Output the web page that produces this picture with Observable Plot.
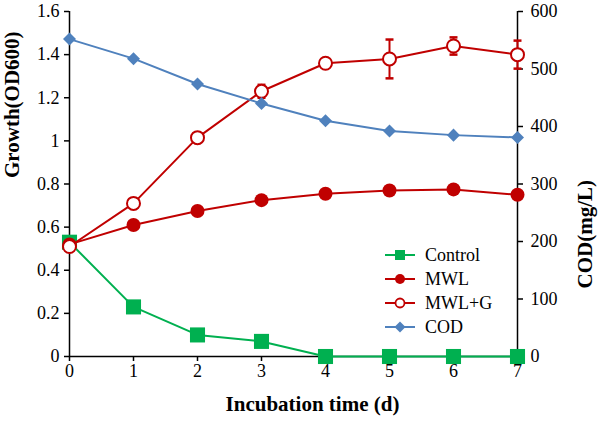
<!DOCTYPE html>
<html><head><meta charset="utf-8">
<script src="https://cdn.jsdelivr.net/npm/d3@7"></script>
<script src="https://cdn.jsdelivr.net/npm/@observablehq/plot@0.6"></script>
<style>
body{margin:0;background:#fff;}
#wrap{position:relative;width:598px;height:424px;font-family:"Times New Roman","Liberation Serif","DejaVu Serif",serif;}
#wrap svg, #wrap svg text{font-family:"Times New Roman","Liberation Serif","DejaVu Serif",serif !important;}
.legend{position:absolute;left:385px;top:243px;font-size:18px;color:#000;font-family:"Times New Roman","Liberation Serif","DejaVu Serif",serif;}
.legend .row{display:flex;align-items:center;height:24px;}
.legend svg{margin-right:10px;display:block;}
</style></head><body><div id="wrap"></div>
<script>
const days=[0,1,2,3,4,5,6,7];
const control=[0.53,0.23,0.10,0.07,0,0,0,0];
const mwl=[0.52,0.61,0.675,0.725,0.755,0.77,0.775,0.75];
const mwlG=[0.51,0.71,1.015,1.23,1.36,1.38,1.44,1.40];
const mwlGErr=[0,0,0,0.03,0,0.09,0.04,0.065];
const cod=[552,518,474,440,410,392,385,381];
const odTicks=[0,0.2,0.4,0.6,0.8,1,1.2,1.4,1.6];
const codTicks=[0,100,200,300,400,500,600];
const dayTicks=[0,1,2,3,4,5,6,7];
const seriesNames=["Control","MWL","MWL+G","COD"];
const colors={green:"#00B050",red:"#C00000",blue:"#4F81BD"};

const k=1.6/600; // COD -> OD scale
const rows=days.map((d,i)=>({day:d,control:control[i],mwl:mwl[i],mwlG:mwlG[i],err:mwlGErr[i],cod:cod[i]*k}));
const errRows=rows.filter(r=>r.err>0);
const capSymbol={draw(ctx,size){const w=Math.sqrt(size);ctx.moveTo(-w/2,0);ctx.lineTo(w/2,0);}};

const font='"Times New Roman","Liberation Serif","DejaVu Serif",serif';
const chart=Plot.plot({
  width:598,height:424,
  marginLeft:69,marginRight:81,marginTop:11,marginBottom:68,
  x:{domain:[0,7]},
  y:{domain:[0,1.6]},
  style:{fontFamily:font,fontSize:"18px",color:"#000",background:"white"},
  marks:[
    Plot.axisX(dayTicks,{tickSize:5,tickPadding:3,label:null,fontSize:18,strokeWidth:1.5,tickFormat:d=>String(d)}),
    Plot.axisY(odTicks,{anchor:"left",tickSize:5,tickPadding:5,label:null,fontSize:18,strokeWidth:1.5,tickFormat:d=>String(+(+d).toFixed(1))}),
    Plot.axisY(codTicks.map(v=>v*k),{anchor:"right",tickSize:5,tickPadding:8,label:null,fontSize:18,strokeWidth:1.5,tickFormat:d=>String(Math.round(d/k))}),
    Plot.ruleX([0],{stroke:"#000",strokeWidth:1.5}),
    Plot.ruleX([7],{stroke:"#000",strokeWidth:1.5}),
    Plot.ruleY([0],{stroke:"#000",strokeWidth:1.5}),
    // Control
    Plot.line(rows,{x:"day",y:"control",stroke:colors.green,strokeWidth:2}),
    Plot.dot(rows,{x:"day",y:"control",symbol:"square",r:8.5,fill:colors.green,stroke:"none"}),
    // MWL
    Plot.line(rows,{x:"day",y:"mwl",stroke:colors.red,strokeWidth:2}),
    Plot.dot(rows,{x:"day",y:"mwl",r:7,fill:colors.red,stroke:"none"}),
    // MWL+G
    Plot.ruleX(errRows,{x:"day",y1:r=>r.mwlG-r.err,y2:r=>r.mwlG+r.err,stroke:colors.red,strokeWidth:2}),
    Plot.dot(errRows,{x:"day",y:r=>r.mwlG+r.err,symbol:capSymbol,r:4.5,stroke:colors.red,strokeWidth:2.5,fill:"none"}),
    Plot.dot(errRows,{x:"day",y:r=>r.mwlG-r.err,symbol:capSymbol,r:4.5,stroke:colors.red,strokeWidth:2.5,fill:"none"}),
    Plot.line(rows,{x:"day",y:"mwlG",stroke:colors.red,strokeWidth:2}),
    Plot.dot(rows,{x:"day",y:"mwlG",r:6.5,fill:"white",stroke:colors.red,strokeWidth:2}),
    // COD
    Plot.line(rows,{x:"day",y:"cod",stroke:colors.blue,strokeWidth:2}),
    Plot.dot(rows,{x:"day",y:"cod",symbol:"square",r:5.2,rotate:45,fill:colors.blue,stroke:"none"}),
    // axis titles
    Plot.text(["Incubation time (d)"],{frameAnchor:"bottom",text:d=>d,dx:19,dy:54,fontSize:21,fontWeight:"bold",fontFamily:font}),
    Plot.text(["Growth(OD600)"],{frameAnchor:"left",text:d=>d,rotate:-90,dx:-57,dy:-6,fontSize:21,fontWeight:"bold",fontFamily:font}),
    Plot.text(["COD(mg/L)"],{frameAnchor:"right",text:d=>d,rotate:-90,dx:68,dy:-4,fontSize:21,fontWeight:"bold",fontFamily:font})
  ]
});
const wrap=document.getElementById("wrap");
wrap.appendChild(chart);

// legend
const legendSym={
  "Control":`<line x1="0" y1="10" x2="30" y2="10" stroke="${colors.green}" stroke-width="2"/><rect x="10" y="5" width="10" height="10" fill="${colors.green}"/>`,
  "MWL":`<line x1="0" y1="10" x2="30" y2="10" stroke="${colors.red}" stroke-width="2"/><circle cx="15" cy="10" r="5" fill="${colors.red}"/>`,
  "MWL+G":`<line x1="0" y1="10" x2="30" y2="10" stroke="${colors.red}" stroke-width="2"/><circle cx="15" cy="10" r="4.5" fill="white" stroke="${colors.red}" stroke-width="1.8"/>`,
  "COD":`<line x1="0" y1="10" x2="30" y2="10" stroke="${colors.blue}" stroke-width="2"/><path d="M15 4.5 L20.5 10 L15 15.5 L9.5 10 Z" fill="${colors.blue}"/>`
};
const leg=document.createElement("div");
leg.className="legend";
seriesNames.forEach(n=>{
  const row=document.createElement("div");
  row.className="row";
  row.innerHTML=`<svg width="30" height="20">${legendSym[n]}</svg><span>${n}</span>`;
  leg.appendChild(row);
});
wrap.appendChild(leg);
</script></body></html>
